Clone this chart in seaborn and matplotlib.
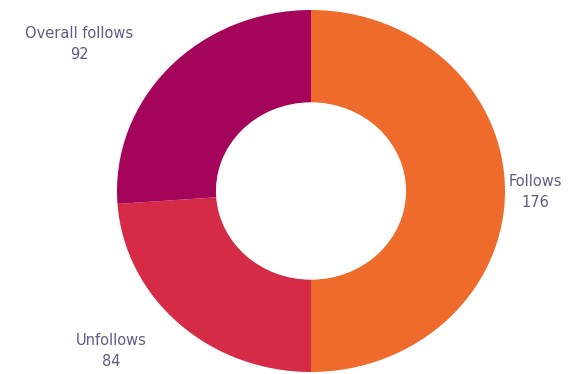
import matplotlib
matplotlib.use("Agg")
import matplotlib.pyplot as plt
import seaborn as sns

categories = ["Follows", "Unfollows", "Overall follows"]
values = [176, 84, 92]
colors = ["#EE6B2C", "#D52B46", "#A5045B"]

sns.set_theme(style="white")
plt.rcParams['font.family'] = ['DejaVu Sans']

fig = plt.figure(figsize=(5.69, 3.74), dpi=100)
ax = fig.add_axes([0, 0, 1, 1])
wedges, _ = ax.pie(values, colors=colors, startangle=90, counterclock=False,
                   radius=1.0, wedgeprops=dict(width=0.51, edgecolor="none", linewidth=0))
ax.set_aspect('auto')
cx, cy, rx, ry = 311, 191, 194, 181
ax.set_xlim(-cx / rx, (569 - cx) / rx)
ax.set_ylim(-(374 - cy) / ry, cy / ry)
ax.axis('off')

label_pos = {"Follows": (535, 192), "Unfollows": (111, 351), "Overall follows": (79, 44)}
for cat, val in zip(categories, values):
    px, py = label_pos[cat]
    ax.text(px / 569, 1 - py / 374, f"{cat}\n{val}", transform=ax.transAxes,
            ha="center", va="center", fontsize=10.5, color="#5C5D85",
            fontweight="normal", linespacing=1.45)

fig.savefig("out.png", dpi=100)
